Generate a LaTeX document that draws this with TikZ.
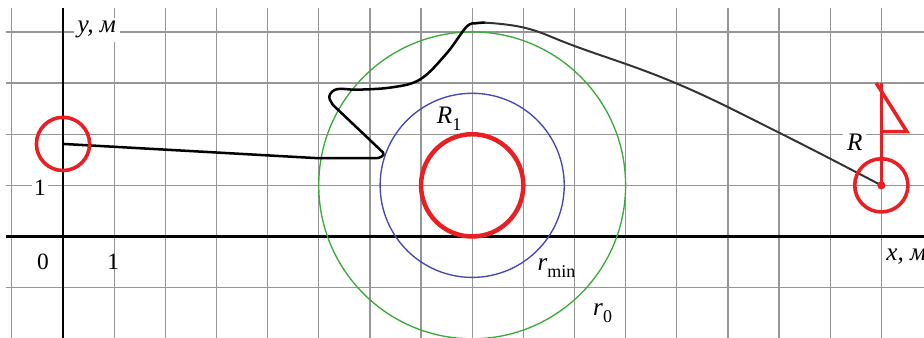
\documentclass[tikz,border=0pt]{standalone}
\usepackage{fontspec}
\setmainfont{Liberation Serif}
\usetikzlibrary{positioning}
\definecolor{GridGray}{RGB}{150,150,150}
\definecolor{RobotRed}{RGB}{232,32,36}
\definecolor{ZoneBlue}{RGB}{70,70,180}
\definecolor{ZoneGreen}{RGB}{60,170,60}
\newcommand{\lowidx}[1]{\raisebox{-0.55ex}{\upshape\fontsize{10}{12}\selectfont #1}}
\tikzset{
  gridline/.style={draw=GridGray,line width=0.7pt},
  axisline/.style={draw=black,line width=1.4pt},
  robotmark/.style={draw=RobotRed,line width=2pt},
  zonecircle/.style={line width=0.75pt},
  pathline/.style={draw=black,line width=1.4pt,line join=round,line cap=round},
  tailline/.style={draw=black!80,line width=1.1pt,line cap=round},
  axislabel/.style={font=\fontsize{14}{16}\selectfont\itshape,fill=white,inner sep=2pt},
  ticklabel/.style={font=\fontsize{13}{15}\selectfont,inner sep=1pt},
  zonelabel/.style={font=\fontsize{14}{16}\selectfont\itshape,inner sep=0pt},
}
\begin{document}
\begin{tikzpicture}
  \useasboundingbox (-1.232,-1.984) rectangle (16.834,4.624);
  \foreach \x in {-1,...,16} \draw[gridline] (\x,-1.984) -- (\x,4.47);
  \foreach \y in {-1,...,4} \draw[gridline] (-1.12,\y) -- (16.834,\y);
  \draw[axisline] (-1.12,0) -- (16.834,0);
  \draw[axisline] (0,-1.984) -- (0,4.47);

  \coordinate (start) at (0,1.81);
  \coordinate (goal) at (16,1);
  \coordinate (obst) at (8,1);

  \draw[zonecircle,ZoneGreen] (obst) circle (3);
  \draw[zonecircle,ZoneBlue] (obst) circle (1.8);
  \draw[robotmark,line width=2.5pt] (obst) circle (1);

  \draw[pathline] (start) -- (5.0,1.53) -- (6.12,1.53)
    to[out=0,in=-60] (6.26,1.64)
    -- (5.28,2.57) to[out=120,in=-120] (5.22,2.78)
    to[out=60,in=180] (5.7,2.87)
    plot[smooth,tension=0.6] coordinates {(5.7,2.87) (6.39,2.91) (6.98,3.07) (7.5,3.58) (7.89,4.1) (8.09,4.17) (8.25,4.18)};
  \draw[tailline] plot[smooth,tension=0.7] coordinates {(8.25,4.18) (9.07,4.07) (10.04,3.71) (12.0,2.99) (14.02,2.02) (goal)};

  \draw[robotmark] (start) circle (0.52);
  \draw[robotmark] (goal) circle (0.52);
  \fill[RobotRed] (goal) circle (0.08);
  \draw[robotmark] (goal) -- ++(0,2) coordinate (top);
  \draw[robotmark,line join=miter] (15.9,3) -- (16.5,2.05) -- (16,2.05);

  \node[axislabel] (ylab) at (0.66,4.04) {y, м};
  \node[axislabel,anchor=west] (xlab) at (16.02,-0.4) {x, м};
  \node[ticklabel] (orig) at (-0.39,-0.5) {0};
  \node[ticklabel] (xone) at (0.98,-0.5) {1};
  \node[ticklabel,fill=white] (yone) at (-0.45,0.95) {1};
  \node[axislabel] (rlab) at (15.48,1.85) {R};
  \node[zonelabel] (ronelab) at (7.55,2.3) {R\lowidx{1}};
  \node[zonelabel] (rminlab) at (9.65,-0.62) {r\lowidx{min}};
  \node[zonelabel] (rzerolab) at (10.55,-1.5) {r\lowidx{0}};
\end{tikzpicture}
\end{document}
